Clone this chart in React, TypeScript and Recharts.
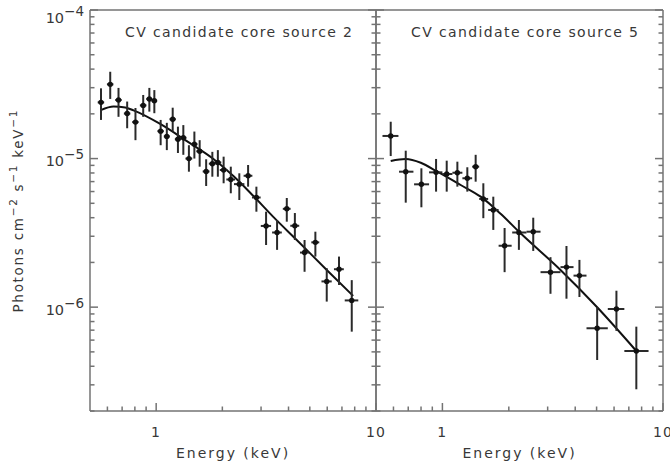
import React from 'react';
import { ComposedChart, Scatter, Line, XAxis, YAxis, ErrorBar } from 'recharts';

// CV candidate core source 2 (left panel)
const energy2 = [0.561, 0.618, 0.674, 0.738, 0.805, 0.873, 0.931, 0.981, 1.048, 1.118, 1.189, 1.256, 1.329, 1.409, 1.492, 1.577, 1.688, 1.801, 1.908, 2.027, 2.185, 2.389, 2.619, 2.857, 3.162, 3.548, 3.928, 4.275, 4.732, 5.299, 5.969, 6.788, 7.757];
const energyErr2 = [0.019, 0.021, 0.023, 0.025, 0.027, 0.03, 0.03, 0.03, 0.035, 0.035, 0.04, 0.04, 0.045, 0.05, 0.05, 0.055, 0.06, 0.065, 0.07, 0.08, 0.1, 0.13, 0.12, 0.13, 0.17, 0.18, 0.16, 0.2, 0.22, 0.22, 0.32, 0.35, 0.55];
const flux2 = [2.39e-5, 3.16e-5, 2.48e-5, 2.01e-5, 1.76e-5, 2.28e-5, 2.52e-5, 2.45e-5, 1.53e-5, 1.41e-5, 1.84e-5, 1.35e-5, 1.38e-5, 1.0e-5, 1.25e-5, 1.12e-5, 8.19e-6, 9.24e-6, 9.41e-6, 8.38e-6, 7.23e-6, 6.73e-6, 7.66e-6, 5.47e-6, 3.52e-6, 3.18e-6, 4.59e-6, 3.53e-6, 2.33e-6, 2.73e-6, 1.49e-6, 1.8e-6, 1.11e-6];
const fluxLo2 = [1.82e-5, 2.52e-5, 1.91e-5, 1.6e-5, 1.33e-5, 1.91e-5, 2.07e-5, 2.02e-5, 1.23e-5, 1.14e-5, 1.52e-5, 1.09e-5, 1.06e-5, 8.16e-6, 1.0e-5, 8.82e-6, 6.54e-6, 7.55e-6, 7.55e-6, 6.82e-6, 5.84e-6, 5.26e-6, 6.47e-6, 4.39e-6, 2.62e-6, 2.43e-6, 3.76e-6, 2.83e-6, 1.73e-6, 2.19e-6, 1.09e-6, 1.41e-6, 6.84e-7];
const fluxHi2 = [2.97e-5, 3.84e-5, 2.99e-5, 2.42e-5, 2.19e-5, 2.68e-5, 2.99e-5, 2.89e-5, 1.82e-5, 1.74e-5, 2.2e-5, 1.64e-5, 1.68e-5, 1.23e-5, 1.52e-5, 1.33e-5, 9.89e-6, 1.11e-5, 1.14e-5, 1.03e-5, 8.82e-6, 7.96e-6, 9.05e-6, 6.47e-6, 4.39e-6, 3.86e-6, 5.43e-6, 4.3e-6, 2.83e-6, 3.22e-6, 1.83e-6, 2.19e-6, 1.52e-6];
const modelEnergy2 = [0.56, 0.64, 0.723, 0.789, 1.043, 1.379, 1.822, 2.245, 2.769, 3.41, 4.36, 5.97, 7.87];
const modelFlux2 = [2.12e-5, 2.24e-5, 2.21e-5, 2.11e-5, 1.71e-5, 1.31e-5, 9.94e-6, 7.64e-6, 5.6e-6, 4.05e-6, 2.83e-6, 1.78e-6, 1.19e-6];

// CV candidate core source 5 (right panel)
const energy5 = [0.583, 0.682, 0.803, 0.936, 1.046, 1.169, 1.297, 1.415, 1.533, 1.701, 1.914, 2.222, 2.581, 3.09, 3.651, 4.18, 5.03, 6.15, 7.57];
const energyLo5 = [0.535, 0.636, 0.744, 0.87, 1.0, 1.11, 1.232, 1.364, 1.468, 1.612, 1.798, 2.072, 2.406, 2.785, 3.43, 3.93, 4.5, 5.62, 6.68];
const energyHi5 = [0.632, 0.739, 0.87, 1.0, 1.11, 1.232, 1.364, 1.468, 1.612, 1.798, 2.06, 2.406, 2.785, 3.43, 3.93, 4.5, 5.62, 6.68, 8.6];
const flux5 = [1.42e-5, 8.16e-6, 6.71e-6, 8.08e-6, 7.87e-6, 8.03e-6, 7.37e-6, 8.82e-6, 5.35e-6, 4.51e-6, 2.59e-6, 3.18e-6, 3.22e-6, 1.72e-6, 1.86e-6, 1.63e-6, 7.21e-7, 9.72e-7, 5.07e-7];
const fluxLo5 = [1.04e-5, 5.05e-6, 4.7e-6, 5.99e-6, 5.99e-6, 6.47e-6, 5.99e-6, 6.99e-6, 3.97e-6, 3.31e-6, 1.72e-6, 2.43e-6, 2.39e-6, 1.23e-6, 1.14e-6, 1.17e-6, 4.41e-7, 6.92e-7, 2.8e-7];
const fluxHi5 = [1.77e-5, 1.13e-5, 8.6e-6, 9.94e-6, 9.68e-6, 9.53e-6, 8.74e-6, 1.06e-5, 6.82e-6, 5.54e-6, 3.41e-6, 3.86e-6, 4.0e-6, 2.17e-6, 2.58e-6, 2.08e-6, 9.98e-7, 1.29e-6, 7.39e-7];
const modelEnergy5 = [0.583, 0.682, 0.798, 0.949, 1.21, 1.491, 1.836, 2.262, 3.431, 5.03, 7.57];
const modelFlux5 = [9.64e-6, 9.94e-6, 9.38e-6, 8.16e-6, 6.64e-6, 5.54e-6, 4.25e-6, 3.14e-6, 1.78e-6, 9.98e-7, 5.07e-7];

const xTicks = [0.6, 0.7, 0.8, 0.9, 1, 2, 3, 4, 5, 6, 7, 8, 9, 10];
const yMantissas = [1, 2, 3, 4, 5, 6, 7, 8, 9];
const yDecades = [1e-7, 1e-6, 1e-5];
const yTicks = [...yDecades.flatMap((d) => yMantissas.map((m) => +(m * d).toPrecision(3))).filter((v) => v >= 2e-7), 1e-4];

const FRAME = '#737373';
const INK = '#383838';
const FONT = '"DejaVu Sans", Verdana, sans-serif';
const H = 465;

const points2 = energy2.map((x, i) => ({
  x,
  y: flux2[i],
  ex: energyErr2[i],
  ey: [flux2[i] - fluxLo2[i], fluxHi2[i] - flux2[i]],
}));
const points5 = energy5.map((x, i) => ({
  x,
  y: flux5[i],
  ex: [x - energyLo5[i], energyHi5[i] - x],
  ey: [flux5[i] - fluxLo5[i], fluxHi5[i] - flux5[i]],
}));
const model2 = modelEnergy2.map((x, i) => ({ x, y: modelFlux2[i] }));
const model5 = modelEnergy5.map((x, i) => ({ x, y: modelFlux5[i] }));

const isDecade = (v: number) => {
  const l = Math.log10(v);
  return Math.abs(l - Math.round(l)) < 1e-6;
};

// ticks point into the plot on all four sides, like the old PGPLOT frames
const FrameTick = ({ x, y, payload, side, showLabel }: any) => {
  const v = payload.value;
  const major = isDecade(v);
  const len = major ? 8 : 4.5;
  const d = ({ bottom: [0, -len], top: [0, len], left: [len, 0], right: [-len, 0] } as any)[side];
  return (
    <g>
      <line x1={x} y1={y} x2={x + d[0]} y2={y + d[1]} stroke={FRAME} strokeWidth={1.5} />
      {showLabel && major && side === 'bottom' && (
        <text x={x} y={y + 26} textAnchor="middle" fill={INK} fontSize={14} fontFamily={FONT} letterSpacing={1.2}>
          {v}
        </text>
      )}
      {showLabel && major && side === 'left' && (
        <text x={x - 6} y={y + (v >= 1e-4 ? 13 : 7.5)} textAnchor="end" fill={INK} fontSize={14.5} fontFamily={FONT}>
          10
          <tspan dy={-6.8} fontSize={13.5}>{`\u2212${-Math.round(Math.log10(v))}`}</tspan>
        </text>
      )}
    </g>
  );
};

const EnergyLabel = ({ viewBox }: any) => (
  <text
    x={viewBox.x + viewBox.width / 2}
    y={viewBox.y + 47}
    textAnchor="middle"
    fill={INK}
    fontSize={14}
    fontFamily={FONT}
    letterSpacing={2}
  >
    Energy (keV)
  </text>
);

const TitleLabel = (title: string) => ({ viewBox }: any) => (
  <text
    x={viewBox.x + 35}
    y={viewBox.y + viewBox.height + 26.5}
    fill={INK}
    fontSize={14}
    fontFamily={FONT}
    textLength={227}
    lengthAdjust="spacing"
  >
    {title}
  </text>
);

const FluxLabel = ({ viewBox }: any) => {
  const cx = 23;
  const cy = viewBox.y + viewBox.height / 2 + 1;
  return (
    <text
      x={cx}
      y={cy}
      transform={`rotate(-90, ${cx}, ${cy})`}
      textAnchor="middle"
      fill={INK}
      fontSize={13.5}
      fontFamily={FONT}
      textLength={202}
      lengthAdjust="spacing"
    >
      Photons cm
      <tspan dy={-6} fontSize={10.5}>{'\u22122'}</tspan>
      <tspan dy={6}> s</tspan>
      <tspan dy={-6} fontSize={10.5}>{'\u22121'}</tspan>
      <tspan dy={6}> keV</tspan>
      <tspan dy={-6} fontSize={10.5}>{'\u22121'}</tspan>
    </text>
  );
};

const axisLine = { stroke: FRAME, strokeWidth: 1.5 };

// the top and right axes are 1px wide so Recharts draws them; margins make up for that pixel
const Panel = ({ width, margin, points, model, title, leftLabels }: any) => (
  <ComposedChart width={width} height={H} margin={margin}>
    <XAxis
      dataKey="x"
      type="number"
      scale="log"
      domain={[0.5, 10]}
      allowDataOverflow
      ticks={xTicks}
      interval={0}
      height={54}
      tickSize={0}
      tickMargin={0}
      tickLine={false}
      axisLine={axisLine}
      tick={<FrameTick side="bottom" showLabel />}
      label={<EnergyLabel />}
    />
    <XAxis
      xAxisId="top"
      orientation="top"
      height={1}
      type="number"
      scale="log"
      domain={[0.5, 10]}
      allowDataOverflow
      ticks={xTicks}
      interval={0}
      tickSize={0}
      tickMargin={0}
      tickLine={false}
      axisLine={axisLine}
      tick={<FrameTick side="top" />}
      label={TitleLabel(title)}
    />
    <YAxis
      dataKey="y"
      type="number"
      scale="log"
      domain={[2e-7, 1e-4]}
      allowDataOverflow
      ticks={yTicks}
      interval={0}
      width={leftLabels ? 90 : 1}
      tickSize={0}
      tickMargin={0}
      tickLine={false}
      axisLine={axisLine}
      tick={<FrameTick side="left" showLabel={leftLabels} />}
      label={leftLabels ? <FluxLabel /> : undefined}
    />
    <YAxis
      yAxisId="right"
      orientation="right"
      width={1}
      type="number"
      scale="log"
      domain={[2e-7, 1e-4]}
      allowDataOverflow
      ticks={yTicks}
      interval={0}
      tickSize={0}
      tickMargin={0}
      tickLine={false}
      axisLine={axisLine}
      tick={<FrameTick side="right" />}
    />
    <Line
      data={model}
      dataKey="y"
      type="monotone"
      stroke="#111"
      strokeWidth={2}
      dot={false}
      activeDot={false}
      isAnimationActive={false}
    />
    <Scatter
      data={points}
      dataKey="y"
      isAnimationActive={false}
      shape={(p: any) => <circle cx={p.cx} cy={p.cy} r={2.7} fill="#111" />}
    >
      <ErrorBar dataKey="ey" direction="y" width={0} stroke="#2a2a2a" strokeWidth={2} isAnimationActive={false} />
      <ErrorBar dataKey="ex" direction="x" width={0} stroke="#2a2a2a" strokeWidth={2} isAnimationActive={false} />
    </Scatter>
  </ComposedChart>
);

export default function App() {
  return (
    <div style={{ position: 'absolute', left: 0, top: 0, width: 670, height: H, background: '#fff', overflow: 'hidden' }}>
      <div style={{ position: 'absolute', left: 0, top: 0 }}>
        <Panel
          width={392}
          margin={{ top: 9, right: 15, bottom: 0, left: 0 }}
          points={points2}
          model={model2}
          title="CV candidate core source 2"
          leftLabels
        />
      </div>
      <div style={{ position: 'absolute', left: 375, top: 0 }}>
        <Panel
          width={295}
          margin={{ top: 9, right: 6, bottom: 0, left: 0 }}
          points={points5}
          model={model5}
          title="CV candidate core source 5"
          leftLabels={false}
        />
      </div>
    </div>
  );
}
